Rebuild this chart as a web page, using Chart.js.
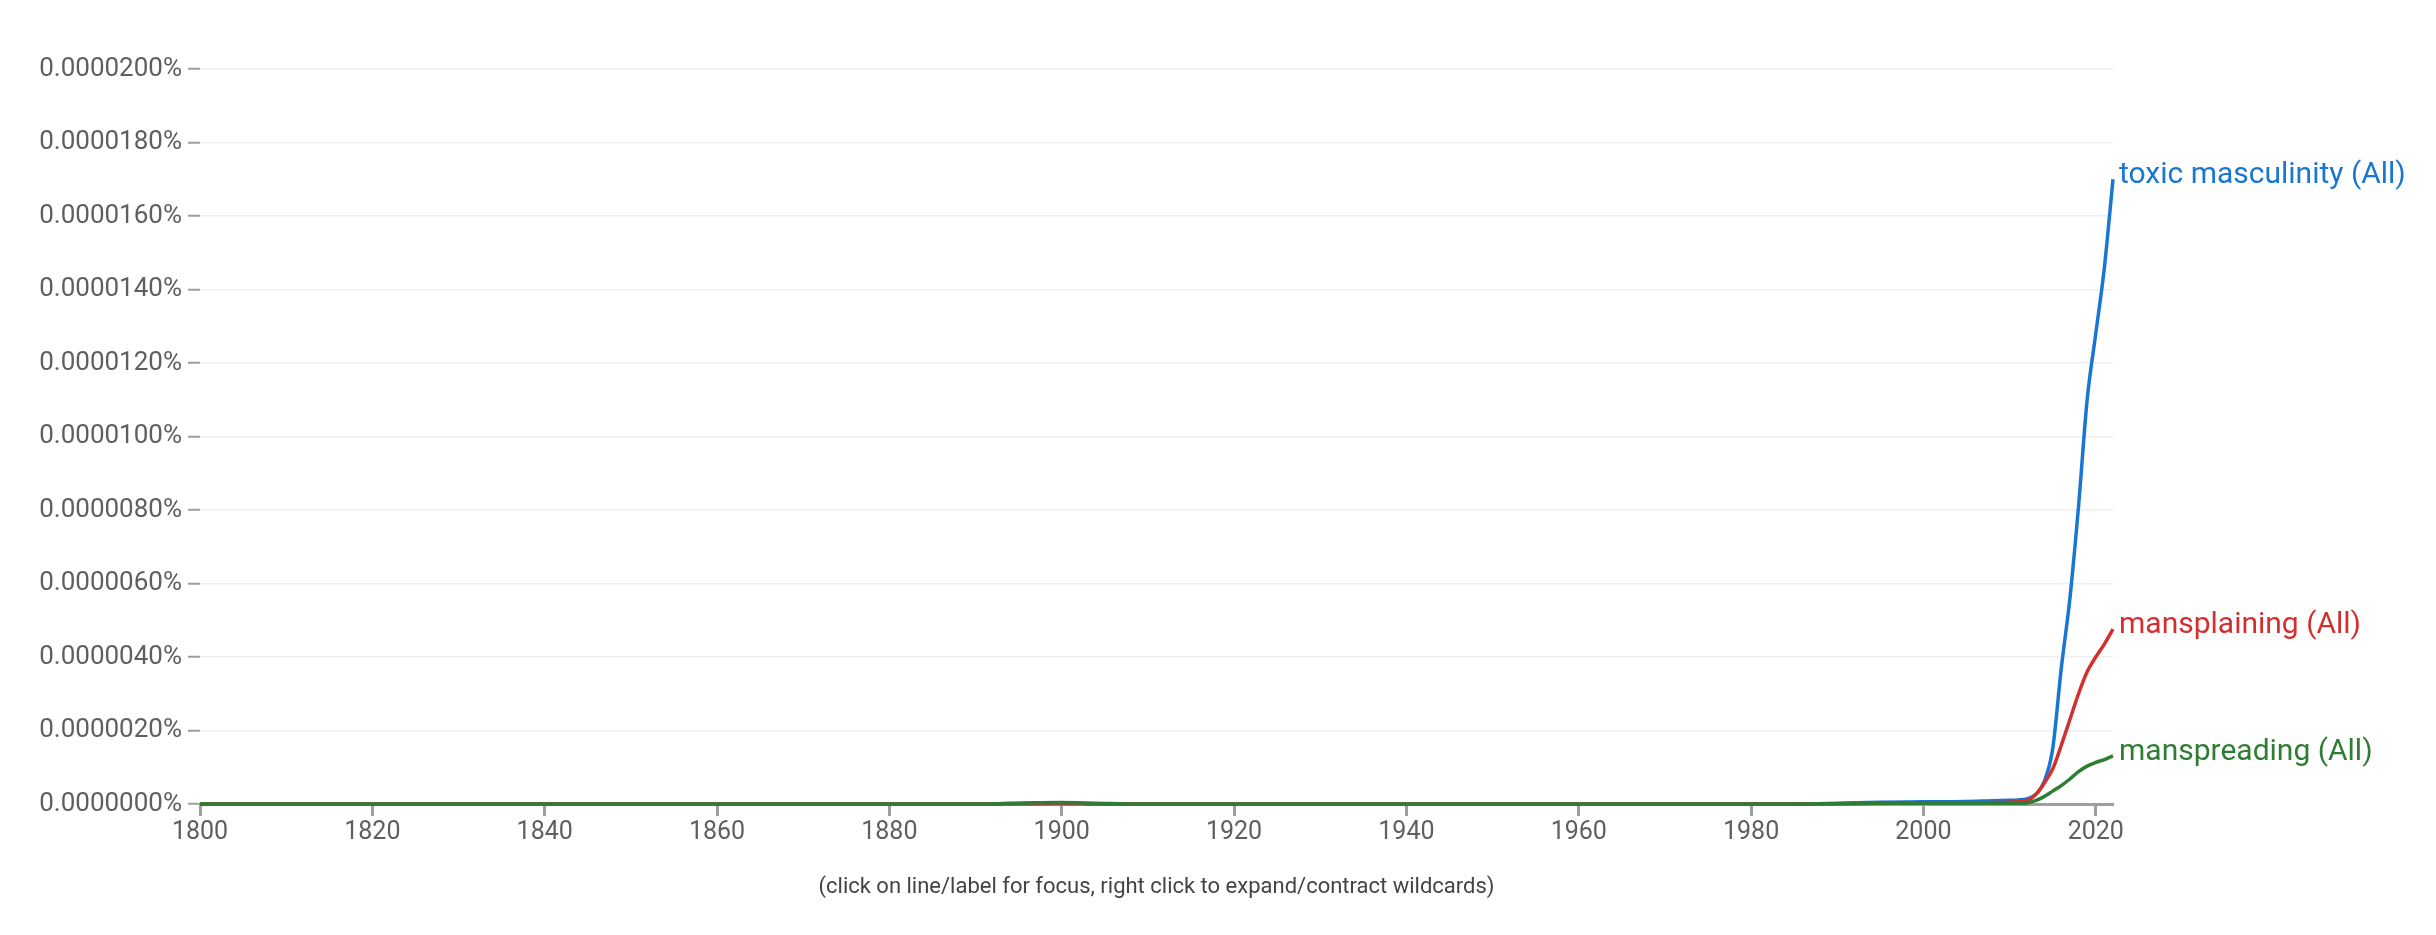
<!DOCTYPE html>
<html>
<head>
<meta charset="utf-8">
<script src="https://cdn.jsdelivr.net/npm/chart.js@4.4.1/dist/chart.umd.min.js"></script>
<style>
    body { margin: 0; background: #fff; }
    #wrap { position: relative; width: 2436px; height: 935px; }
    #nota {
        position: absolute; left: 200px; width: 1913px; top: 873px;
        text-align: center; font: 22px Roboto, sans-serif; color: #444;
    }
</style>
</head>
<body>
<div id="wrap">
    <canvas id="grafico" width="2436" height="935"></canvas>
    <div id="nota">(click on line/label for focus, right click to expand/contract wildcards)</div>
</div>
<script>
// anos (valores em milionésimos de %)
const anos = [1800, 1890, 1896, 1900, 1904, 1910, 1985, 1990, 1995, 2000, 2005, 2008, 2010,
    2011, 2012, 2013, 2014, 2015, 2016, 2017, 2018, 2019, 2020, 2021, 2022];

const toxicMasculinity = [0, 0, 0, 0.01, 0, 0, 0, 0.02, 0.05, 0.06, 0.07, 0.09, 0.1,
    0.11, 0.14, 0.25, 0.6, 1.5, 3.7, 5.6, 8.1, 11.0, 12.8, 14.6, 17.0];
const mansplaining = [0, 0, 0.02, 0.03, 0.01, 0, 0, 0.01, 0.02, 0.03, 0.03, 0.04, 0.05,
    0.06, 0.09, 0.25, 0.56, 0.95, 1.6, 2.3, 3.0, 3.6, 4.0, 4.35, 4.76];
const manspreading = [0, 0, 0.03, 0.04, 0.02, 0, 0, 0.01, 0.02, 0.02, 0.02, 0.02, 0.02,
    0.02, 0.03, 0.09, 0.2, 0.35, 0.5, 0.68, 0.88, 1.03, 1.13, 1.21, 1.31];

const nomes = ['toxic masculinity (All)', 'mansplaining (All)', 'manspreading (All)'];
const cores = ['#1976d2', '#d32f2f', '#2e7d32'];

const ticksX = [1800, 1820, 1840, 1860, 1880, 1900, 1920, 1940, 1960, 1980, 2000, 2020];
const ticksY = [0, 2, 4, 6, 8, 10, 12, 14, 16, 18, 20];

const pontos = (serie) => anos.map((a, i) => ({ x: a, y: serie[i] }));

// rótulos no fim de cada linha
const rotulosFinais = {
    id: 'rotulosFinais',
    afterDatasetsDraw(chart) {
        const ctx = chart.ctx;
        ctx.save();
        ctx.font = '30px Roboto';
        ctx.textBaseline = 'alphabetic';
        chart.data.datasets.forEach((ds, i) => {
            const meta = chart.getDatasetMeta(i);
            const ult = meta.data[meta.data.length - 1];
            ctx.fillStyle = ds.borderColor;
            ctx.fillText(ds.label, ult.x + 6, ult.y + 4);
        });
        ctx.restore();
    }
};

const dadosSeries = [toxicMasculinity, mansplaining, manspreading];

new Chart(document.getElementById('grafico'), {
    type: 'line',
    data: {
        datasets: dadosSeries.map((s, i) => ({
            label: nomes[i],
            data: pontos(s),
            borderColor: cores[i],
            borderWidth: 3.5,
            pointRadius: 0,
            cubicInterpolationMode: 'monotone',
            fill: false,
            clip: false,
            order: 3 - i
        }))
    },
    options: {
        responsive: false,
        animation: false,
        events: [],
        layout: { padding: { left: 0, right: 323, top: 69, bottom: 61 } },
        plugins: { legend: { display: false }, tooltip: { enabled: false } },
        scales: {
            x: {
                type: 'linear',
                min: 1800,
                max: 2022,
                afterFit: (s) => { s.height = 70; },
                afterBuildTicks: (s) => { s.ticks = ticksX.map(v => ({ value: v })); },
                grid: { drawOnChartArea: false, tickLength: 12, tickColor: '#9e9e9e', tickWidth: 3 },
                border: { display: true, color: '#9e9e9e', width: 3 },
                ticks: {
                    color: '#5f5f5f',
                    font: { family: 'Roboto', size: 25 },
                    padding: 2,
                    maxRotation: 0,
                    callback: (v) => String(v)
                }
            },
            y: {
                min: 0,
                max: 20,
                afterFit: (s) => { s.width = 200; },
                afterBuildTicks: (s) => { s.ticks = ticksY.map(v => ({ value: v })); },
                grid: { color: '#efefef', lineWidth: 1.5, tickLength: 12, tickColor: '#9e9e9e', tickWidth: 2 },
                border: { display: false },
                ticks: {
                    color: '#5f5f5f',
                    font: { family: 'Roboto', size: 26 },
                    padding: 6,
                    callback: (v) => (v / 1e6).toFixed(7) + '%'
                }
            }
        }
    },
    plugins: [rotulosFinais]
});
</script>
</body>
</html>
